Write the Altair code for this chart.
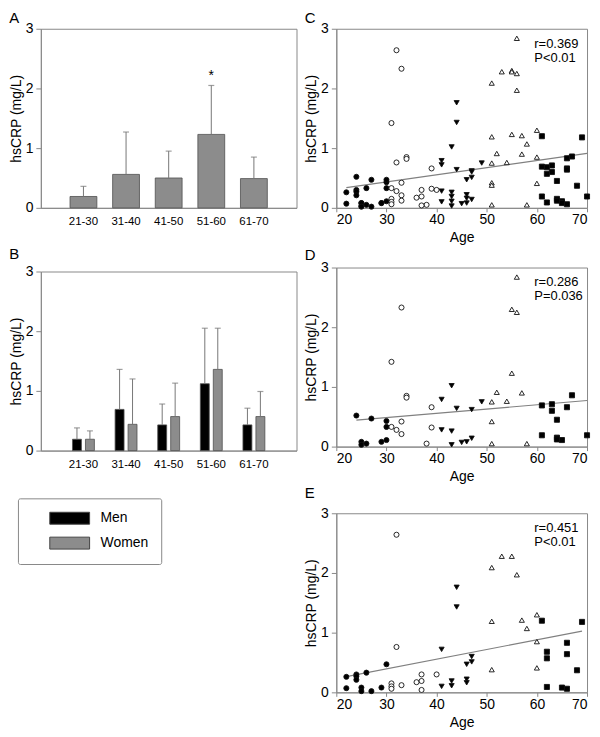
import altair as alt
import pandas as pd

FONT = "Liberation Sans"

# ---- bar panel data (A: all, B: by sex) ----
groups = ["21-30", "31-40", "41-50", "51-60", "61-70"]
all_mean = [0.19, 0.56, 0.50, 1.23, 0.49]
all_sd = [0.17, 0.71, 0.45, 0.82, 0.36]
all_sig = ["", "", "", "*", ""]
men_mean = [0.19, 0.69, 0.43, 1.12, 0.43]
men_sd = [0.19, 0.67, 0.35, 0.93, 0.28]
women_mean = [0.19, 0.44, 0.57, 1.36, 0.57]
women_sd = [0.14, 0.76, 0.56, 0.69, 0.42]
sexes = ["Men", "Women"]

# ---- scatter data ----
men_age = [24, 25, 25, 26, 27, 29, 30, 30, 30,
           31, 33, 34, 34, 33, 31, 32, 33, 39, 39, 38,
           41, 41, 43, 43, 43, 44, 45, 46, 47, 47, 49,
           51, 51, 51, 52, 54, 55, 55, 56, 56, 57, 58,
           61, 61, 63, 63, 64, 64, 64, 65, 66, 67, 70]
men_crp = [0.52, 0.08, 0.03, 0.05, 0.47, 0.08, 0.43, 0.33, 0.11,
           1.42, 2.33, 0.85, 0.82, 0.42, 0.33, 0.28, 0.21, 0.66, 0.32, 0.05,
           0.79, 0.28, 1.02, 0.26, 0.03, 0.64, 0.07, 0.08, 0.62, 0.14, 0.75,
           0.75, 0.42, 0.05, 0.91, 0.76, 1.23, 2.30, 2.25, 2.84, 0.90, 0.05,
           0.69, 0.19, 0.71, 0.60, 0.45, 0.15, 0.12, 0.11, 0.66, 0.86, 0.19]
women_age = [22, 22, 24, 24, 24, 25, 25, 26, 27, 29, 30,
             32, 32, 31, 31, 31, 33, 36, 37, 37, 37, 40,
             44, 44, 41, 41, 43, 43, 46, 46, 46, 47, 47,
             51, 53, 55, 56, 51, 57, 58, 60, 60, 51, 60,
             61, 69, 66, 62, 62, 66, 68, 62, 65, 66]
women_crp = [0.26, 0.07, 0.30, 0.27, 0.21, 0.08, 0.02, 0.33, 0.02, 0.08, 0.47,
             2.64, 0.76, 0.15, 0.10, 0.06, 0.12, 0.17, 0.30, 0.19, 0.04, 0.30,
             1.76, 1.43, 0.72, 0.10, 0.19, 0.11, 0.47, 0.22, 0.16, 0.60, 0.51,
             2.09, 2.28, 2.28, 1.97, 1.19, 1.21, 1.07, 1.30, 0.85, 0.38, 0.41,
             1.20, 1.18, 0.83, 0.68, 0.57, 0.64, 0.37, 0.09, 0.08, 0.06]
r_text = ["r=0.369", "r=0.286", "r=0.451"]
p_text = ["P<0.01", "P=0.036", "P<0.01"]
panel_letters = ["A", "B", "C", "D", "E"]

# ---- tables ----
dfA = pd.DataFrame({"group": groups, "mean": all_mean, "sd": all_sd, "sig": all_sig})
dfB = pd.concat([
    pd.DataFrame({"group": groups, "sex": "Men", "mean": men_mean, "sd": men_sd}),
    pd.DataFrame({"group": groups, "sex": "Women", "mean": women_mean, "sd": women_sd}),
], ignore_index=True)


def grp(a):
    return groups[(a - 21) // 10]


dfM = pd.DataFrame({"age": men_age, "crp": men_crp})
dfW = pd.DataFrame({"age": women_age, "crp": women_crp})
dfM["group"] = dfM["age"].map(grp)
dfW["group"] = dfW["age"].map(grp)
dfAll = pd.concat([dfM, dfW], ignore_index=True)

yscale = alt.Scale(domain=[0, 3], nice=False)
yaxis = alt.Axis(values=[0, 1, 2, 3], title="hsCRP (mg/L)", tickSize=5,
                 labelPadding=3, titlePadding=2, format="d")
xbar_axis = alt.Axis(title=None, ticks=False, labelAngle=0, labelPadding=8,
                     labelFontSize=11.5)

GRAY = "#8c8c8c"
ERR = "#777777"


def title(letter, offset):
    return alt.TitleParams(letter, anchor="start", frame="bounds", fontSize=15,
                           fontWeight="normal", font=FONT, color="black",
                           offset=offset)


# ---- Panel A ----
baseA = alt.Chart(dfA).transform_calculate(upper="datum.mean + datum.sd")
xA = alt.X("group:N", sort=groups,
           scale=alt.Scale(domain=groups, paddingInner=0.37, paddingOuter=0.685),
           axis=xbar_axis)
barsA = baseA.mark_bar(fill=GRAY, stroke="#505050", strokeWidth=0.8).encode(
    x=xA, y=alt.Y("mean:Q", scale=yscale, axis=yaxis))
errA = baseA.mark_rule(color=ERR, strokeWidth=1).encode(
    x=xA, y="mean:Q", y2="upper:Q")
capA = baseA.mark_tick(color=ERR, size=6, thickness=1.2, orient="horizontal").encode(
    x=xA, y="upper:Q")
starA = baseA.mark_text(baseline="alphabetic", dy=-5, fontSize=14, font=FONT,
                        color="black", fill="black").encode(
    x=xA, y="upper:Q", text="sig:N")
chartA = alt.layer(barsA, errA, capA, starA).properties(
    width=257, height=180, title=title(panel_letters[0], -4))

# ---- Panel B ----
baseB = alt.Chart(dfB).transform_calculate(upper="datum.mean + datum.sd")
xB = alt.X("group:N", sort=groups,
           scale=alt.Scale(domain=groups, paddingInner=0.486, paddingOuter=0.743),
           axis=xbar_axis)
xoB = alt.XOffset("sex:N", sort=sexes, scale=alt.Scale(domain=sexes, paddingInner=0.31))
barsB = baseB.mark_bar(stroke="#505050", strokeWidth=0.8).encode(
    x=xB, xOffset=xoB,
    y=alt.Y("mean:Q", scale=yscale, axis=yaxis),
    color=alt.Color("sex:N", sort=sexes,
                    scale=alt.Scale(domain=sexes, range=["#000000", GRAY]),
                    legend=alt.Legend(orient="none", legendX=-23, legendY=472,
                                      title=None, direction="vertical",
                                      symbolType="M-1,-1H5.67V1H-1Z",
                                      symbolSize=144, symbolStrokeColor="#444",
                                      symbolStrokeWidth=1, symbolOffset=18,
                                      labelFontSize=14, labelFont=FONT,
                                      labelOffset=38, strokeColor="#888",
                                      fillColor="white", padding=13,
                                      rowPadding=9, cornerRadius=2)))
errB = baseB.mark_rule(color=ERR, strokeWidth=1).encode(
    x=xB, xOffset=xoB, y="mean:Q", y2="upper:Q")
capB = baseB.mark_tick(color=ERR, size=6, thickness=1.2, orient="horizontal").encode(
    x=xB, xOffset=xoB, y="upper:Q")
chartB = alt.layer(barsB, errB, capB).properties(
    width=257, height=180, title=title(panel_letters[1], 3))

# ---- scatter panels ----
shape_scale = alt.Scale(domain=groups,
                        range=["circle", "circle", "triangle-down", "triangle-up", "square"])
fill_scale = alt.Scale(domain=groups,
                       range=["black", "white", "black", "white", "black"])
xs_axis = alt.Axis(values=[20, 30, 40, 50, 60, 70], title="Age", tickSize=4,
                   labelPadding=1, titlePadding=4)


def scatter(df, idx, letter, offset):
    base = alt.Chart(df)
    x = alt.X("age:Q", scale=alt.Scale(domain=[20, 70], nice=False), axis=xs_axis)
    y = alt.Y("crp:Q", scale=yscale, axis=yaxis)
    fit = base.transform_regression("age", "crp").mark_line(
        color="#808080", strokeWidth=1.2).encode(x=x, y=y)
    pts = base.mark_point(filled=True, stroke="#111", strokeWidth=0.9, size=26,
                          opacity=1).encode(
        x=x, y=y,
        shape=alt.Shape("group:N", scale=shape_scale, legend=None),
        fill=alt.Fill("group:N", scale=fill_scale, legend=None))
    stat = alt.Chart(pd.DataFrame({"r": [r_text[idx]], "p": [p_text[idx]]})) \
        .transform_calculate(label="datum.r + '\\n' + datum.p") \
        .mark_text(align="left", baseline="alphabetic", x=199, y=19, fontSize=13,
                   font=FONT, lineBreak="\n", lineHeight=14, color="black") \
        .encode(text="label:N")
    return alt.layer(fit, pts, stat).properties(
        width=252, height=180, title=title(letter, offset))


chartC = scatter(dfAll, 0, panel_letters[2], -4)
chartD = scatter(dfM, 1, panel_letters[3], -2)
chartE = scatter(dfW, 2, panel_letters[4], 5)

left = alt.vconcat(chartA, chartB, spacing=18)
right = alt.vconcat(chartC, chartD, chartE, spacing=1)

chart = alt.hconcat(left, right, spacing=6).properties(padding=0).configure(
    font=FONT
).configure_view(stroke="#888", strokeWidth=1).configure_axis(
    domainColor="#888", tickColor="#888", labelColor="black", titleColor="black",
    labelFontSize=14, titleFontSize=14, titleFontWeight="normal", grid=False,
    labelFont=FONT, titleFont=FONT
)

chart.save("out.html", embed_options={"renderer": "svg", "actions": False})
